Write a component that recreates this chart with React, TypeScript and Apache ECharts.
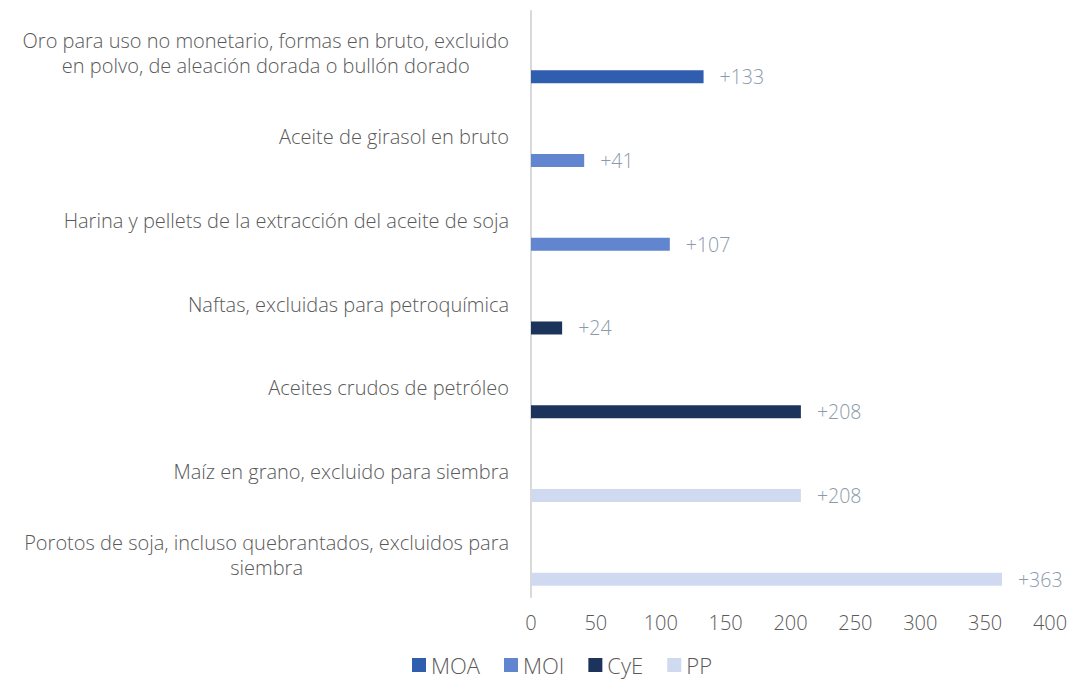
import React, { useEffect, useRef } from "react";
import * as echarts from "echarts";

const categories = [
  "Oro para uso no monetario, formas en bruto, excluido\nen polvo, de aleación dorada o bullón dorado",
  "Aceite de girasol en bruto",
  "Harina y pellets de la extracción del aceite de soja",
  "Naftas, excluidas para petroquímica",
  "Aceites crudos de petróleo",
  "Maíz en grano, excluido para siembra",
  "Porotos de soja, incluso quebrantados, excluidos para\nsiembra",
];

const seriesNames = ["MOA", "MOI", "CyE", "PP"];
const moa = [133, "-", "-", "-", "-", "-", "-"];
const moi = ["-", 41, 107, "-", "-", "-", "-"];
const cye = ["-", "-", "-", 24, 208, "-", "-"];
const pp = ["-", "-", "-", "-", "-", 208, 363];
const xTicks = { min: 0, max: 400, interval: 50 };

const colors = ["#2f5eae", "#6186cf", "#1c335c", "#cfdaf0"];
const FONT = "Open Sans";
const TEXT = "#595959";
const W = 300;

export default function App() {
  const ref = useRef<HTMLDivElement>(null);
  useEffect(() => {
    if (!ref.current) return;
    const chart = echarts.init(ref.current, null, { renderer: "svg" });
    const values = [moa, moi, cye, pp];
    const series: any[] = [
      {
        name: "_spacer",
        type: "bar",
        barWidth: 13,
        data: categories.map(() => "-"),
        silent: true,
      },
    ];
    seriesNames.forEach((n, i) => {
      series.push({
        name: n,
        type: "bar",
        stack: "all",
        barWidth: 13,
        barGap: "269%",
        itemStyle: { color: colors[i] },
        label: {
          show: true,
          position: "right",
          distance: 16,
          color: "#8a9aab",
          fontSize: 19.5,
          fontWeight: W,
          fontFamily: FONT,
          formatter: (p: any) => "+" + p.value,
        },
        data: values[i],
      });
    });
    chart.setOption({
      animation: false,
      textStyle: { fontFamily: FONT },
      grid: { left: 531, right: 22, top: 11, bottom: 84, containLabel: false },
      legend: {
        data: seriesNames,
        left: 407,
        top: 649,
        icon: "rect",
        itemWidth: 14,
        itemHeight: 14,
        itemGap: 24,
        textStyle: { fontSize: 22, lineHeight: 22, fontWeight: W, color: TEXT, fontFamily: FONT },
      },
      xAxis: {
        type: "value",
        min: xTicks.min,
        max: xTicks.max,
        interval: xTicks.interval,
        axisLine: { show: false },
        axisTick: { show: false },
        splitLine: { show: false },
        axisLabel: { fontSize: 20, fontWeight: W, color: TEXT, fontFamily: FONT, margin: 15 },
      },
      yAxis: {
        type: "category",
        inverse: true,
        data: categories,
        axisLine: { show: true, lineStyle: { color: "#d9d9d9", width: 2 } },
        axisTick: { show: false },
        axisLabel: {
          margin: 22,
          align: "right",
          formatter: (v: string) =>
            v
              .split("\n")
              .map((l) => "{c|" + l + "}")
              .join("\n"),
          rich: {
            c: {
              align: "center",
              fontSize: 20,
              fontWeight: W,
              lineHeight: 25,
              color: TEXT,
              fontFamily: FONT,
            },
          },
        },
      },
      series,
    });
    return () => chart.dispose();
  }, []);
  return (
    <div
      ref={ref}
      style={{ position: "fixed", left: 0, top: 0, width: 1072, height: 681, background: "#fff" }}
    />
  );
}
